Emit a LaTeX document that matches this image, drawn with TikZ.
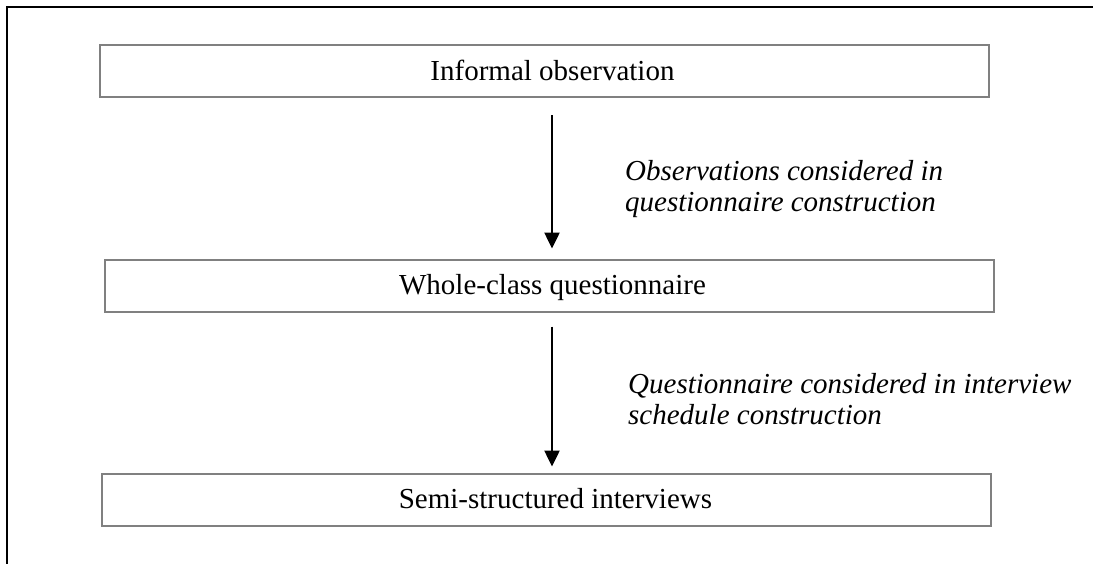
\documentclass[tikz,border=0pt]{standalone}
\usepackage{fontspec}
\setmainfont{Liberation Serif}
\usetikzlibrary{arrows.meta}

\begin{document}
\begin{tikzpicture}[x=1pt,y=-1pt,
    stagebox/.style={draw=black!50, line width=2pt, minimum width=889pt, minimum height=52pt,
      inner sep=0pt, text height=20pt, text depth=2pt, font=\fontsize{29}{31}\selectfont},
    flow/.style={line width=2.5pt, -{Triangle[width=15pt,length=16pt]}},
    note/.style={anchor=north west, align=left, inner sep=0pt, font=\fontsize{29}{31}\selectfont\itshape}]
        \useasboundingbox (0,0) rectangle (1093,563);
        \draw[line width=2.5pt] (1100,7) -- (7,7) -- (7,570);
        % the three stages
        \node[stagebox] (obs) at (544.5,71) {\hspace*{16pt}Informal observation};
        \node[stagebox] (quest) at (549.5,285.5) {\hspace*{6pt}Whole-class questionnaire};
        \node[stagebox] (inter) at (546.5,499.5) {\hspace*{18pt}Semi-structured interviews};
        \coordinate (ax) at (552,0);
        \draw[flow, shorten <=17pt, shorten >=10pt] (obs.south -| ax) -- (quest.north -| ax);
        \draw[flow, shorten <=14pt, shorten >=6pt] (quest.south -| ax) -- (inter.north -| ax);
        \node[note] (obsnote) at (625,160) {Observations considered in\\questionnaire construction};
        \node[note] (questnote) at (628,373) {Questionnaire considered in interview\\schedule construction};
    \end{tikzpicture}
\end{document}
